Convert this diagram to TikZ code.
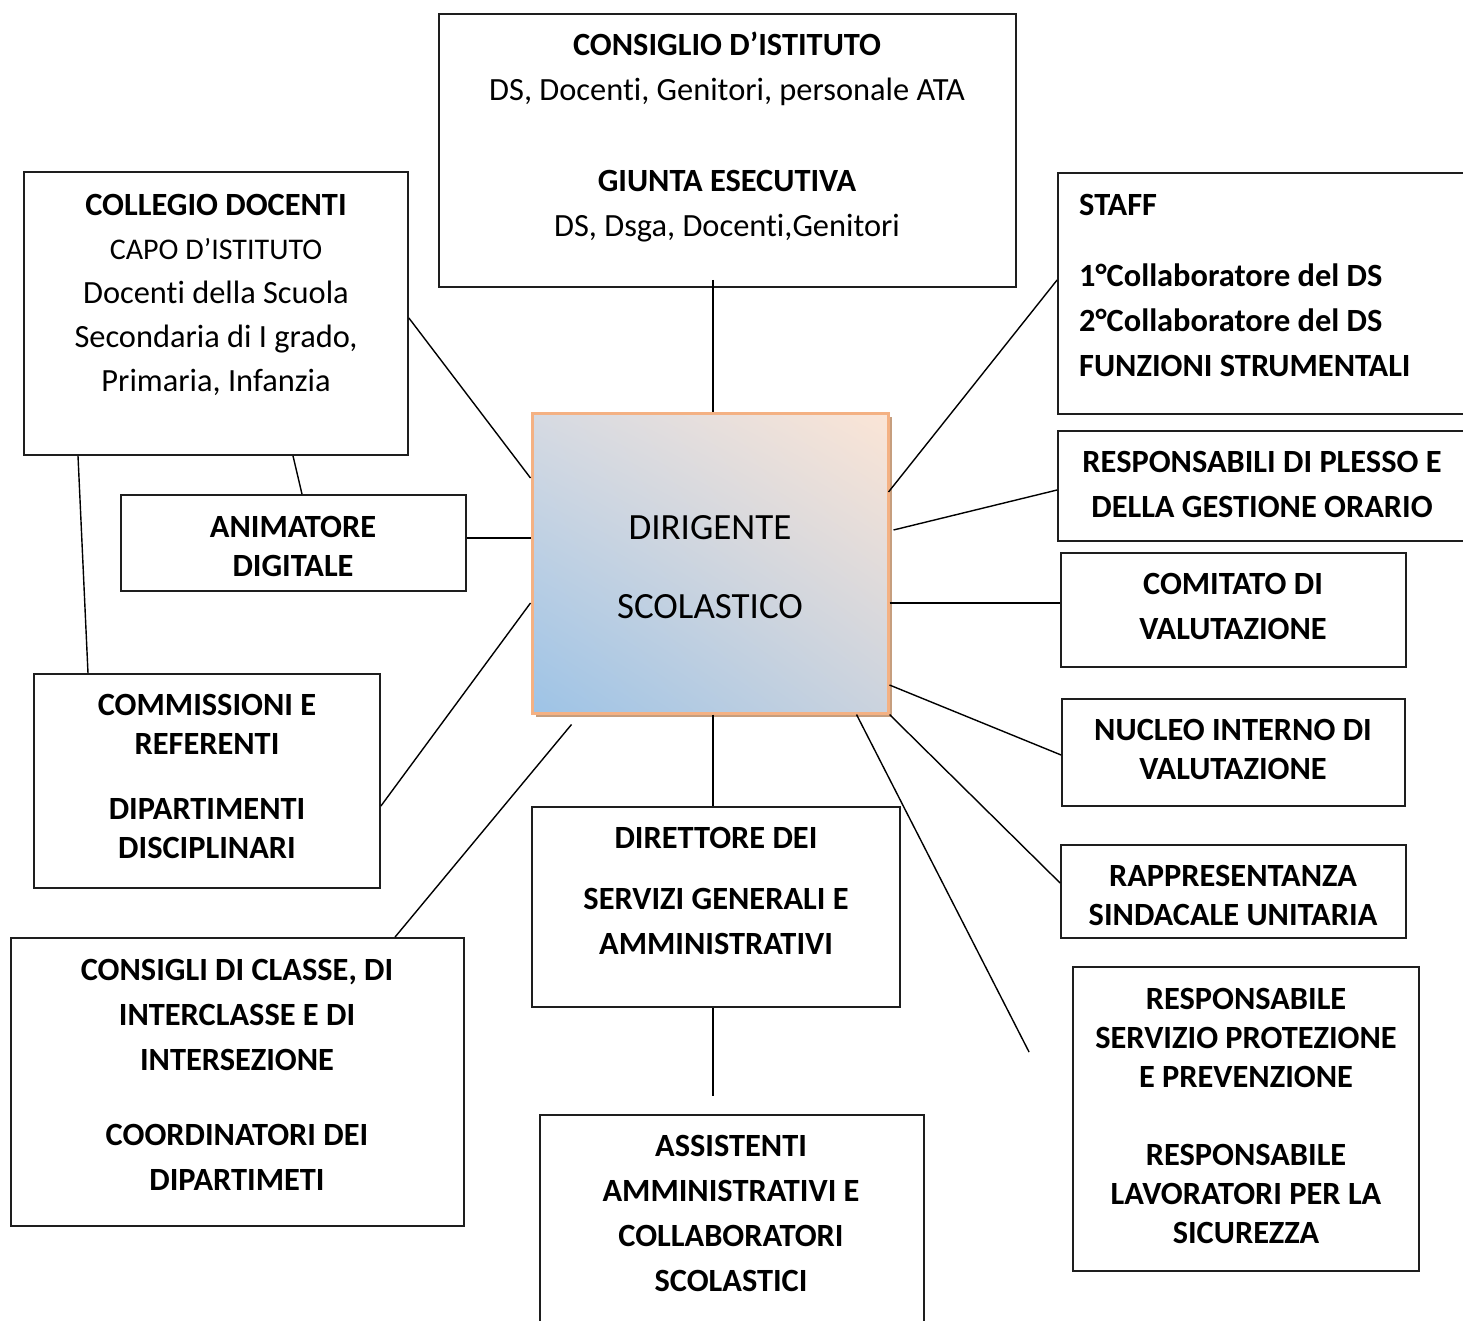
\documentclass[tikz,border=0pt]{standalone}
\usepackage{fontspec}
\setmainfont{Carlito}[Ligatures=CommonOff]
\usetikzlibrary{shadows}
\usetikzlibrary{shadings}
\definecolor{linkLineStyleColor}{RGB}{0,0,0}
\definecolor{organBorderColor}{RGB}{30,30,30}
\definecolor{headBorderColor}{RGB}{244,177,131}
\definecolor{headShadowColor}{RGB}{198,158,126}
\definecolor{headBlue}{RGB}{157,195,230}
\definecolor{headPeach}{RGB}{251,229,214}
\definecolor{headGreyA}{RGB}{214,218,226}
\definecolor{headGreyB}{RGB}{203,211,222}
\tikzset{
	organ/.style = {
		draw = organBorderColor, line width = 1.8pt, rectangle, inner sep = 0pt
	},
	organText/.style = {
		align = center, inner sep = 0pt, font = \bfseries\fontsize{32.4}{45}\selectfont
	},
	tightText/.style = {
		font = \bfseries\fontsize{32.4}{39}\selectfont
	},
	headBox/.style = {
		draw = headBorderColor, line width = 3pt, rectangle, inner sep = 0pt,
		lower left = headBlue, upper right = headPeach,
		upper left = headGreyA, lower right = headGreyB,
		drop shadow = {fill = headShadowColor, opacity = 1, shadow xshift = 4pt, shadow yshift = -4pt}
	},
	linkLineStyle/.style = {
		line width = 1.4pt, draw = linkLineStyleColor
	}
}
\begin{document}
\begin{tikzpicture}[x=1pt, y=-1pt]
	\useasboundingbox (0,0) rectangle (1463,1321);

	\node [organ, minimum width = 577pt, minimum height = 273pt] (consiglio) at (727.5,150.5) {};
	\node [organ, minimum width = 384pt, minimum height = 283pt] (collegio) at (216,313.5) {};
	\node [organ, minimum width = 345pt, minimum height = 96pt] (animatore) at (293.5,543) {};
	\node [headBox, minimum width = 356pt, minimum height = 300pt] (dirigente) at (710,563) {};
	\node [organ, minimum width = 422pt, minimum height = 241pt] (staff) at (1269,293.5) {};
	\node [organ, minimum width = 422pt, minimum height = 110pt] (plesso) at (1269,486) {};
	\node [organ, minimum width = 345pt, minimum height = 114pt] (comitato) at (1233.5,610) {};
	\node [organ, minimum width = 343pt, minimum height = 107pt] (nucleo) at (1233.5,752.5) {};
	\node [organ, minimum width = 345pt, minimum height = 93pt] (rappresentanza) at (1233.5,891.5) {};
	\node [organ, minimum width = 346pt, minimum height = 304pt] (rspp) at (1246,1119) {};
	\node [organ, minimum width = 346pt, minimum height = 214pt] (commissioni) at (207,781) {};
	\node [organ, minimum width = 453pt, minimum height = 288pt] (consigli) at (237.5,1082) {};
	\node [organ, minimum width = 368pt, minimum height = 200pt] (direttore) at (716,907) {};
	\node [organ, minimum width = 384pt, minimum height = 225pt] (assistenti) at (732,1227.5) {};

	\node [organText] (consiglioText) at (727,137) {CONSIGLIO D’ISTITUTO\\{\mdseries DS, Docenti, Genitori, personale ATA}\\[45pt]GIUNTA ESECUTIVA\\{\mdseries DS, Dsga, Docenti,Genitori}};
	\node [organText, font = \bfseries\fontsize{32.4}{44}\selectfont] (collegioText) at (216,295) {COLLEGIO DOCENTI\\{\mdseries\fontsize{30}{44}\selectfont CAPO D’ISTITUTO}\\{\mdseries Docenti della Scuola}\\{\mdseries Secondaria di I grado,}\\{\mdseries Primaria, Infanzia}};
	\node [organText, tightText] (animatoreText) at (293,546.5) {ANIMATORE\\DIGITALE};
	\node [organText, font = \fontsize{37}{79}\selectfont] (dirigenteText) at (710,567.5) {DIRIGENTE\\SCOLASTICO};
	\node [organText, align = left, anchor = west] (staffText) at (1079,285.5) {STAFF\\[26pt]1°Collaboratore del DS\\2°Collaboratore del DS\\FUNZIONI STRUMENTALI};
	\node [organText] (plessoText) at (1262,484.5) {RESPONSABILI DI PLESSO E\\DELLA GESTIONE ORARIO};
	\node [organText] (comitatoText) at (1233,606.5) {COMITATO DI\\VALUTAZIONE};
	\node [organText, tightText] (nucleoText) at (1233,749.5) {NUCLEO INTERNO DI\\VALUTAZIONE};
	\node [organText, tightText] (rappresentanzaText) at (1233,895.5) {RAPPRESENTANZA\\SINDACALE UNITARIA};
	\node [organText, tightText] (rsppText) at (1246,1115.5) {RESPONSABILE\\SERVIZIO PROTEZIONE\\E PREVENZIONE\\[39pt]RESPONSABILE\\LAVORATORI PER LA\\SICUREZZA};
	\node [organText, tightText] (commissioniText) at (207,776.5) {COMMISSIONI E\\REFERENTI\\[26pt]DIPARTIMENTI\\DISCIPLINARI};
	\node [organText] (consigliText) at (237,1075) {CONSIGLI DI CLASSE, DI\\INTERCLASSE E DI\\INTERSEZIONE\\[30pt]COORDINATORI DEI\\DIPARTIMETI};
	\node [organText] (direttoreText) at (716,891) {DIRETTORE DEI\\[16pt]SERVIZI GENERALI E\\AMMINISTRATIVI};
	\node [organText] (assistentiText) at (731,1213.5) {ASSISTENTI\\AMMINISTRATIVI E\\COLLABORATORI\\SCOLASTICI};

	\coordinate (consigliEnd) at ([xshift = 41pt, yshift = -10pt]dirigente.south west);
	\coordinate (assistentiEnd) at ([xshift = -19pt, yshift = 18pt]assistenti.north);
	\coordinate (rsppEnd) at ([xshift = -43pt, yshift = -86pt]rspp.north west);

	\draw [linkLineStyle] ([xshift = -14.5pt, yshift = 8pt]consiglio.south) to ([xshift = 3pt]dirigente.north);
	\draw [linkLineStyle] ([yshift = -4.5pt]collegio.east) to ([yshift = 85pt]dirigente.west);
	\draw [linkLineStyle] ([xshift = 77pt]collegio.south) to ([xshift = 8.5pt]animatore.north);
	\draw [linkLineStyle] ([xshift = -138pt]collegio.south) to ([xshift = -119pt]commissioni.north);
	\draw [linkLineStyle] ([yshift = 5pt]animatore.east) to ([yshift = 25pt]dirigente.west);
	\draw [linkLineStyle] ([yshift = -25pt]commissioni.east) to ([yshift = -40pt]dirigente.west);
	\draw [linkLineStyle] ([xshift = 157.5pt]consigli.north) to (consigliEnd);
	\draw [linkLineStyle] ([xshift = 3pt]dirigente.south) to ([xshift = -3pt]direttore.north);
	\draw [linkLineStyle] ([xshift = -3pt]direttore.south) to (assistentiEnd);
	\draw [linkLineStyle] ([xshift = -1pt, yshift = 71pt]dirigente.east) to ([yshift = 13.5pt]staff.west);
	\draw [linkLineStyle] ([xshift = 4pt, yshift = 33pt]dirigente.east) to ([yshift = -4pt]plesso.west);
	\draw [linkLineStyle] ([yshift = -40pt]dirigente.east) to ([yshift = 7pt]comitato.west);
	\draw [linkLineStyle] ([yshift = -122pt]dirigente.east) to ([yshift = -2.5pt]nucleo.west);
	\draw [linkLineStyle] (dirigente.south east) to ([yshift = 8.5pt]rappresentanza.west);
	\draw [linkLineStyle] ([xshift = -33pt]dirigente.south east) to (rsppEnd);
\end{tikzpicture}
\end{document}
